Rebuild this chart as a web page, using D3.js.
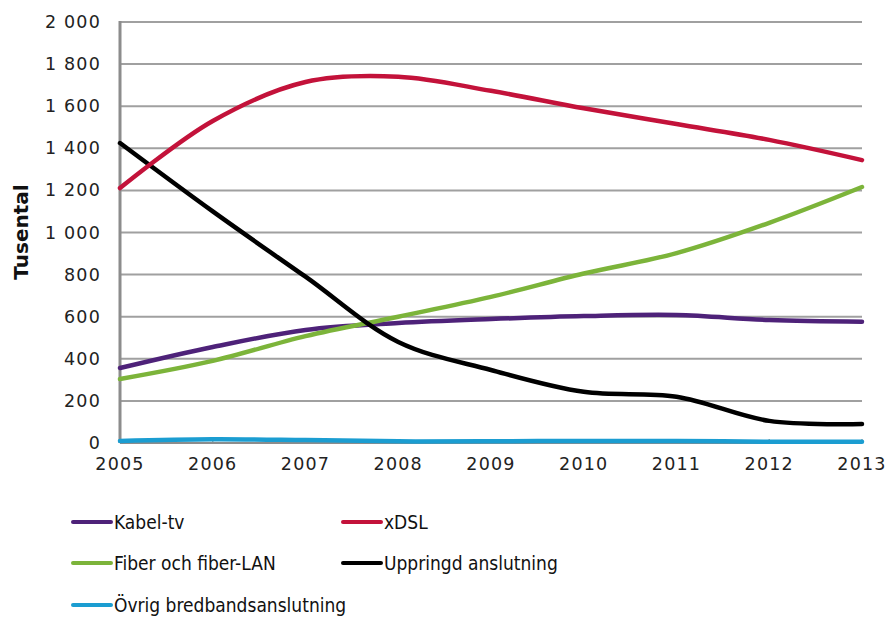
<!DOCTYPE html>
<html>
<head>
<meta charset="utf-8">
<script src="https://cdn.jsdelivr.net/npm/d3@7"></script>
<style>
  body { margin: 0; background: #fff; }
  svg { display: block; }
</style>
</head>
<body>
<svg id="chart" width="890" height="617"></svg>
<script>
var years = [2005, 2006, 2007, 2008, 2009, 2010, 2011, 2012, 2013];
var yTicks = [0, 200, 400, 600, 800, 1000, 1200, 1400, 1600, 1800, 2000];

var kabel = [356, 456, 537, 570, 589, 603, 608, 584, 576];
var xdsl = [1211, 1530, 1715, 1740, 1673, 1590, 1515, 1440, 1344];
var fiber = [304, 390, 508, 600, 694, 805, 902, 1046, 1216];
var uppringd = [1425, 1100, 790, 480, 347, 243, 220, 105, 90];
var ovrig = [10, 18, 14, 8, 8, 10, 10, 6, 6];

var seriesNames = ["Kabel-tv", "xDSL", "Fiber och fiber-LAN", "Uppringd anslutning", "Övrig bredbandsanslutning"];
var seriesValues = [kabel, xdsl, fiber, uppringd, ovrig];
var seriesColors = ["#4e2279", "#c3123a", "#7cb43a", "#000000", "#1b9dd1"];

var svg = d3.select('#chart');
var plotL = 120, plotR = 862, plotT = 22, plotB = 443;

var x = d3.scaleLinear().domain([2005, 2013]).range([plotL, plotR]);
var y = d3.scaleLinear().domain([0, 2000]).range([plotB, plotT]);

// gridlines
svg.append('g').selectAll('line').data(yTicks.slice(1)).enter().append('line')
  .attr('x1', plotL).attr('x2', plotR)
  .attr('y1', function(d) { return y(d); })
  .attr('y2', function(d) { return y(d); })
  .attr('stroke', '#a0a0a0')
  .attr('stroke-width', 2);

// y axis labels
svg.append('g').selectAll('text').data(yTicks).enter().append('text')
  .attr('x', 101)
  .attr('y', function(d) { return y(d) + 6; })
  .attr('text-anchor', 'end')
  .attr('font-family', 'DejaVu Sans')
  .attr('font-size', 17.5)
  .attr('letter-spacing', 1.2)
  .attr('fill', '#222')
  .text(function(d) { return d3.format(',')(d).replace(/,/g, ' '); });

// x axis ticks + labels
svg.append('g').selectAll('line').data(years).enter().append('line')
  .attr('x1', function(d) { return x(d); })
  .attr('x2', function(d) { return x(d); })
  .attr('y1', plotB - 4).attr('y2', plotB)
  .attr('stroke', '#a0a0a0').attr('stroke-width', 1.5);

svg.append('g').selectAll('text').data(years).enter().append('text')
  .attr('x', function(d) { return x(d); })
  .attr('y', plotB + 27)
  .attr('text-anchor', 'middle')
  .attr('font-family', 'DejaVu Sans')
  .attr('font-size', 17.5)
  .attr('letter-spacing', 1.2)
  .attr('fill', '#222')
  .text(function(d) { return d; });

// axes lines
svg.append('line')
  .attr('x1', plotL).attr('x2', plotL).attr('y1', plotT - 1).attr('y2', plotB)
  .attr('stroke', '#8c8c8c').attr('stroke-width', 3);
svg.append('line')
  .attr('x1', plotL).attr('x2', plotR).attr('y1', plotB).attr('y2', plotB)
  .attr('stroke', '#8c8c8c').attr('stroke-width', 2);

// y title
svg.append('text')
  .attr('transform', 'translate(28,232) rotate(-90)')
  .attr('text-anchor', 'middle')
  .attr('font-family', 'DejaVu Sans')
  .attr('font-weight', 'bold')
  .attr('font-size', 20)
  .attr('fill', '#111')
  .text('Tusental');

// lines
var line = d3.line()
  .x(function(d, i) { return x(years[i]); })
  .y(function(d) { return y(d); })
  .curve(d3.curveCatmullRom.alpha(0.5));

var order = [4, 0, 2, 3, 1];
order.forEach(function(k) {
  svg.append('path')
    .attr('d', line(seriesValues[k]))
    .attr('fill', 'none')
    .attr('stroke', seriesColors[k])
    .attr('stroke-width', 4.5)
    .attr('stroke-linecap', 'round');
});

// legend
var legendPos = [[73, 522], [343, 522], [73, 563], [343, 563], [73, 605]];
var legend = svg.append('g');
seriesNames.forEach(function(name, k) {
  var p = legendPos[k];
  legend.append('line')
    .attr('x1', p[0]).attr('x2', p[0] + 38)
    .attr('y1', p[1]).attr('y2', p[1])
    .attr('stroke', seriesColors[k]).attr('stroke-width', 4)
    .attr('stroke-linecap', 'round');
  legend.append('text')
    .attr('x', p[0] + 41)
    .attr('y', p[1] + 7)
    .attr('font-family', 'DejaVu Sans Condensed, DejaVu Sans')
    .attr('font-stretch', 'condensed')
    .attr('font-size', 19)
    .attr('fill', '#111')
    .text(name);
});
</script>
</body>
</html>
